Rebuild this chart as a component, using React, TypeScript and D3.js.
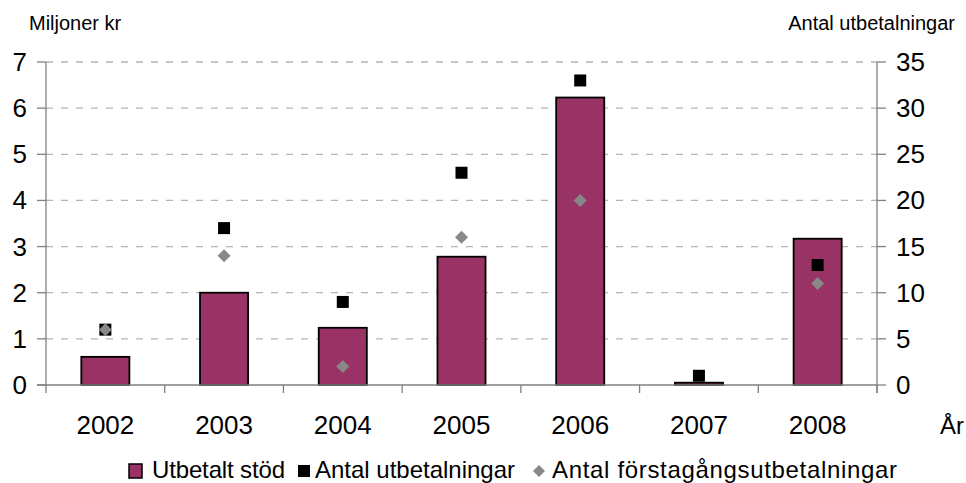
import React from "react";
import * as d3 from "d3";

const years = ["2002", "2003", "2004", "2005", "2006", "2007", "2008"];
const utbetaltStod = [0.61, 2.0, 1.24, 2.78, 6.23, 0.05, 3.17];
const antalUtbetalningar = [6, 17, 9, 23, 33, 1, 13];
const antalForstagangs = [6, 14, 2, 16, 20, null, 11];
const leftTicks = [0, 1, 2, 3, 4, 5, 6, 7];
const rightTicks = [0, 5, 10, 15, 20, 25, 30, 35];

const W = 966, H = 483;
const L = 46, R = 877, T = 62, B = 385;
const FONT = "'Liberation Sans', Arial, sans-serif";

export default function App() {
  const x = d3.scaleBand<string>().domain(years).range([L, R]).paddingInner(0).paddingOuter(0);
  const yL = d3.scaleLinear().domain([0, 7]).range([B, T]);
  const yR = d3.scaleLinear().domain([0, 35]).range([B, T]);
  const bw = x.bandwidth() * 0.405;
  const boundaries = [...years.map((y) => x(y)!), R];

  return (
    <svg width={W} height={H} style={{ position: "absolute", left: 0, top: 0, background: "#fff" }} fontFamily={FONT}>
      {/* grid */}
      {leftTicks.filter((t) => t > 0).map((t) => (
        <line key={t} x1={L} x2={R} y1={yL(t)} y2={yL(t)} stroke="#b4b4b4" strokeWidth={1.3} strokeDasharray="7,8" />
      ))}
      {/* bars */}
      {years.map((yr, i) => {
        const cx = x(yr)! + x.bandwidth() / 2;
        return (
          <rect key={yr} x={cx - bw / 2} y={yL(utbetaltStod[i])} width={bw} height={B - yL(utbetaltStod[i])}
            fill="#993366" stroke="#000" strokeWidth={1.8} />
        );
      })}
      {/* axes */}
      <line x1={L} x2={L} y1={T} y2={B} stroke="#808080" strokeWidth={1.3} />
      <line x1={R} x2={R} y1={T} y2={B + 8} stroke="#808080" strokeWidth={1.3} />
      <line x1={L - 9} x2={R} y1={B} y2={B} stroke="#808080" strokeWidth={1.3} />
      {leftTicks.map((t) => (
        <g key={t}>
          <line x1={L - 9} x2={L} y1={yL(t)} y2={yL(t)} stroke="#808080" strokeWidth={1.3} />
          <text x={27} y={yL(t) + 9} textAnchor="end" fontSize={26} fill="#000">{t}</text>
        </g>
      ))}
      {rightTicks.map((t) => (
        <g key={t}>
          <line x1={R} x2={R + 9} y1={yR(t)} y2={yR(t)} stroke="#808080" strokeWidth={1.3} />
          <text x={896} y={yR(t) + 9} textAnchor="start" fontSize={26} fill="#000">{t}</text>
        </g>
      ))}
      {boundaries.map((b, i) => (
        <line key={i} x1={b} x2={b} y1={B} y2={B + 8} stroke="#808080" strokeWidth={1.3} />
      ))}
      {years.map((yr) => (
        <text key={yr} x={x(yr)! + x.bandwidth() / 2} y={434} textAnchor="middle" fontSize={26} fill="#000">{yr}</text>
      ))}
      {/* markers */}
      {years.map((yr, i) => {
        const cx = x(yr)! + x.bandwidth() / 2;
        return (
          <rect key={"s" + yr} x={cx - 6} y={yR(antalUtbetalningar[i]) - 6} width={12} height={12} fill="#000" />
        );
      })}
      {years.map((yr, i) => {
        const v = antalForstagangs[i];
        if (v == null) return null;
        const cx = x(yr)! + x.bandwidth() / 2;
        const cy = yR(v);
        return (
          <path key={"d" + yr} d={`M${cx},${cy - 6.5}L${cx + 6.5},${cy}L${cx},${cy + 6.5}L${cx - 6.5},${cy}Z`} fill="#888888" />
        );
      })}
      {/* titles */}
      <text x={29} y={30} fontSize={20} fill="#000">Miljoner kr</text>
      <text x={955} y={30} fontSize={20} textAnchor="end" fill="#000">Antal utbetalningar</text>
      <text x={940} y={434} fontSize={24} fill="#000" textLength={24} lengthAdjust="spacing">År</text>
      {/* legend */}
      <rect x={129} y={464} width={13} height={14} fill="#993366" stroke="#000" strokeWidth={1.5} />
      <text x={152} y={478} fontSize={24} fill="#000" textLength={133} lengthAdjust="spacing">Utbetalt stöd</text>
      <rect x={298} y={465} width={12} height={12} fill="#000" />
      <text x={315} y={478} fontSize={24} fill="#000" textLength={200} lengthAdjust="spacing">Antal utbetalningar</text>
      <path d="M539,465L545,471L539,477L533,471Z" fill="#888888" />
      <text x={552} y={478} fontSize={24} fill="#000" textLength={345} lengthAdjust="spacing">Antal förstagångsutbetalningar</text>
    </svg>
  );
}
